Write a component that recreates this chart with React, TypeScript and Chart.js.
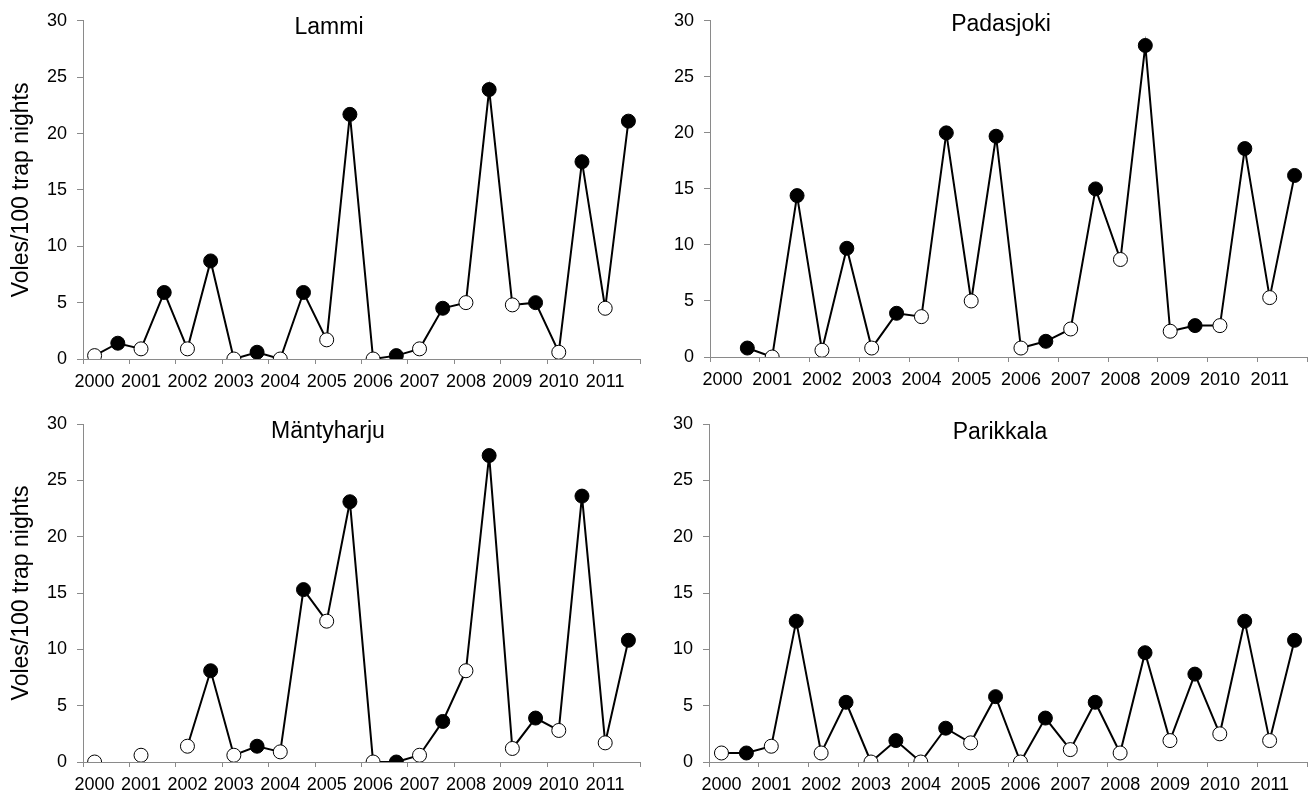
import React, { useEffect, useRef } from "react";
import { Chart, registerables } from "chart.js";

Chart.register(...registerables);

// ---- Data (spring / autumn per year; null = not sampled) ----
const years = ["2000", "2001", "2002", "2003", "2004", "2005", "2006", "2007", "2008", "2009", "2010", "2011"];

const lammi = [0.3, 1.4, 0.9, 5.9, 0.9, 8.7, 0, 0.6, 0, 5.9, 1.7, 21.7, 0, 0.3, 0.9, 4.5, 5.0, 23.9, 4.8, 5.0, 0.6, 17.5, 4.5, 21.1];
const padasjoki = [null, 0.8, 0, 14.4, 0.6, 9.7, 0.8, 3.9, 3.6, 20.0, 5.0, 19.7, 0.8, 1.4, 2.5, 15.0, 8.7, 27.8, 2.3, 2.8, 2.8, 18.6, 5.3, 16.2];
const mantyharju = [0, null, 0.6, null, 1.4, 8.1, 0.6, 1.4, 0.9, 15.3, 12.5, 23.1, 0, 0, 0.6, 3.6, 8.1, 27.2, 1.2, 3.9, 2.8, 23.6, 1.7, 10.8];
const parikkala = [0.8, 0.8, 1.4, 12.5, 0.8, 5.3, 0, 1.9, 0, 3.0, 1.7, 5.8, 0, 3.9, 1.1, 5.3, 0.8, 9.7, 1.9, 7.8, 2.5, 12.5, 1.9, 10.8];

const yMin = 0;
const yMax = 30;
const yStep = 5;
const yTitle = "Voles/100 trap nights";

const FONT = '"Liberation Sans", Arial, sans-serif';
const AXIS = "#8a8a8a";

type PanelCfg = {
  title: string;
  values: (number | null)[];
  left: number;
  top: number;
  w: number;
  h: number;
  pl: number;
  pr: number;
  pt: number;
  pb: number;
  tx: number;
  ty: number;
  showYTitle: boolean;
};

const panels: PanelCfg[] = [
  { title: "Lammi", values: lammi, left: 0, top: 0, w: 655, h: 397, pl: 83, pr: 640, pt: 20, pb: 359, tx: 329, ty: 28, showYTitle: true },
  { title: "Padasjoki", values: padasjoki, left: 655, top: 0, w: 660, h: 397, pl: 55, pr: 656, pt: 19, pb: 357, tx: 346, ty: 25, showYTitle: false },
  { title: "Mäntyharju", values: mantyharju, left: 0, top: 397, w: 655, h: 397, pl: 83, pr: 640, pt: 27, pb: 365, tx: 328, ty: 35, showYTitle: true },
  { title: "Parikkala", values: parikkala, left: 655, top: 397, w: 660, h: 397, pl: 54, pr: 657, pt: 27, pb: 365, tx: 345, ty: 36, showYTitle: false },
];

const titlePlugin = {
  id: "panelTitle",
  afterDraw(chart: any, _args: any, opts: any) {
    const ctx = chart.ctx;
    ctx.save();
    ctx.font = `23px ${FONT}`;
    ctx.fillStyle = "#000";
    ctx.textAlign = "center";
    ctx.textBaseline = "middle";
    ctx.fillText(opts.text, opts.x, opts.y);
    ctx.restore();
  },
};

function Panel({ cfg }: { cfg: PanelCfg }) {
  const ref = useRef<HTMLCanvasElement>(null);
  useEffect(() => {
    const n = cfg.values.length;
    const tickVals = years.map((_, k) => 2 * k - 0.5).concat([n - 0.5]);
    const halfCat = (cfg.pr - cfg.pl) / n / 2;
    const points = cfg.values.map((v, i) => ({ x: i, y: v }));
    const fills = cfg.values.map((_, i) => (i % 2 === 0 ? "#ffffff" : "#000000"));
    const chart = new Chart(ref.current as HTMLCanvasElement, {
      type: "line",
      data: {
        datasets: [
          {
            data: points as any,
            borderColor: "#000",
            borderWidth: 2,
            pointRadius: 7,
            pointHoverRadius: 7,
            pointBorderWidth: 1,
            pointBorderColor: "#000",
            pointBackgroundColor: fills,
            spanGaps: false,
            tension: 0,
          },
        ],
      },
      options: {
        responsive: false,
        animation: false,
        devicePixelRatio: 1,
        layout: { padding: { left: 0, right: cfg.w - cfg.pr, top: cfg.pt, bottom: 0 } },
        plugins: {
          legend: { display: false },
          tooltip: { enabled: false },
          panelTitle: { text: cfg.title, x: cfg.tx, y: cfg.ty },
        } as any,
        scales: {
          x: {
            type: "linear",
            min: -0.5,
            max: n - 0.5,
            afterBuildTicks: (scale: any) => {
              scale.ticks = tickVals.map((v) => ({ value: v }));
            },
            afterFit: (scale: any) => {
              scale.height = cfg.h - cfg.pb;
            },
            ticks: {
              autoSkip: false,
              maxRotation: 0,
              minRotation: 0,
              labelOffset: halfCat,
              padding: 7,
              color: "#000",
              font: { family: FONT, size: 18 },
              callback: (_v: any, i: number) => years[i] ?? "",
            },
            grid: { display: true, drawOnChartArea: false, drawTicks: true, tickLength: 5, color: AXIS, lineWidth: 1 },
            border: { display: true, color: AXIS, width: 1 },
          },
          y: {
            min: yMin,
            max: yMax,
            afterFit: (scale: any) => {
              scale.width = cfg.pl;
            },
            ticks: { stepSize: yStep, padding: 10, color: "#000", font: { family: FONT, size: 18 } },
            grid: { display: true, drawOnChartArea: false, drawTicks: true, tickLength: 6, color: AXIS, lineWidth: 1 },
            border: { display: true, color: AXIS, width: 1 },
            title: {
              display: cfg.showYTitle,
              text: yTitle,
              color: "#000",
              font: { family: FONT, size: 23 },
              padding: { top: 8, bottom: 0 },
            },
          },
        },
      },
      plugins: [titlePlugin],
    } as any);
    return () => chart.destroy();
  }, [cfg]);
  return (
    <canvas
      ref={ref}
      width={cfg.w}
      height={cfg.h}
      style={{ position: "absolute", left: cfg.left, top: cfg.top, width: cfg.w, height: cfg.h }}
    />
  );
}

export default function App() {
  useEffect(() => {
    document.body.style.margin = "0";
  }, []);
  return (
    <div style={{ position: "absolute", left: 0, top: 0, width: 1315, height: 794, background: "#fff", overflow: "hidden" }}>
      {panels.map((p) => (
        <Panel key={p.title} cfg={p} />
      ))}
    </div>
  );
}
